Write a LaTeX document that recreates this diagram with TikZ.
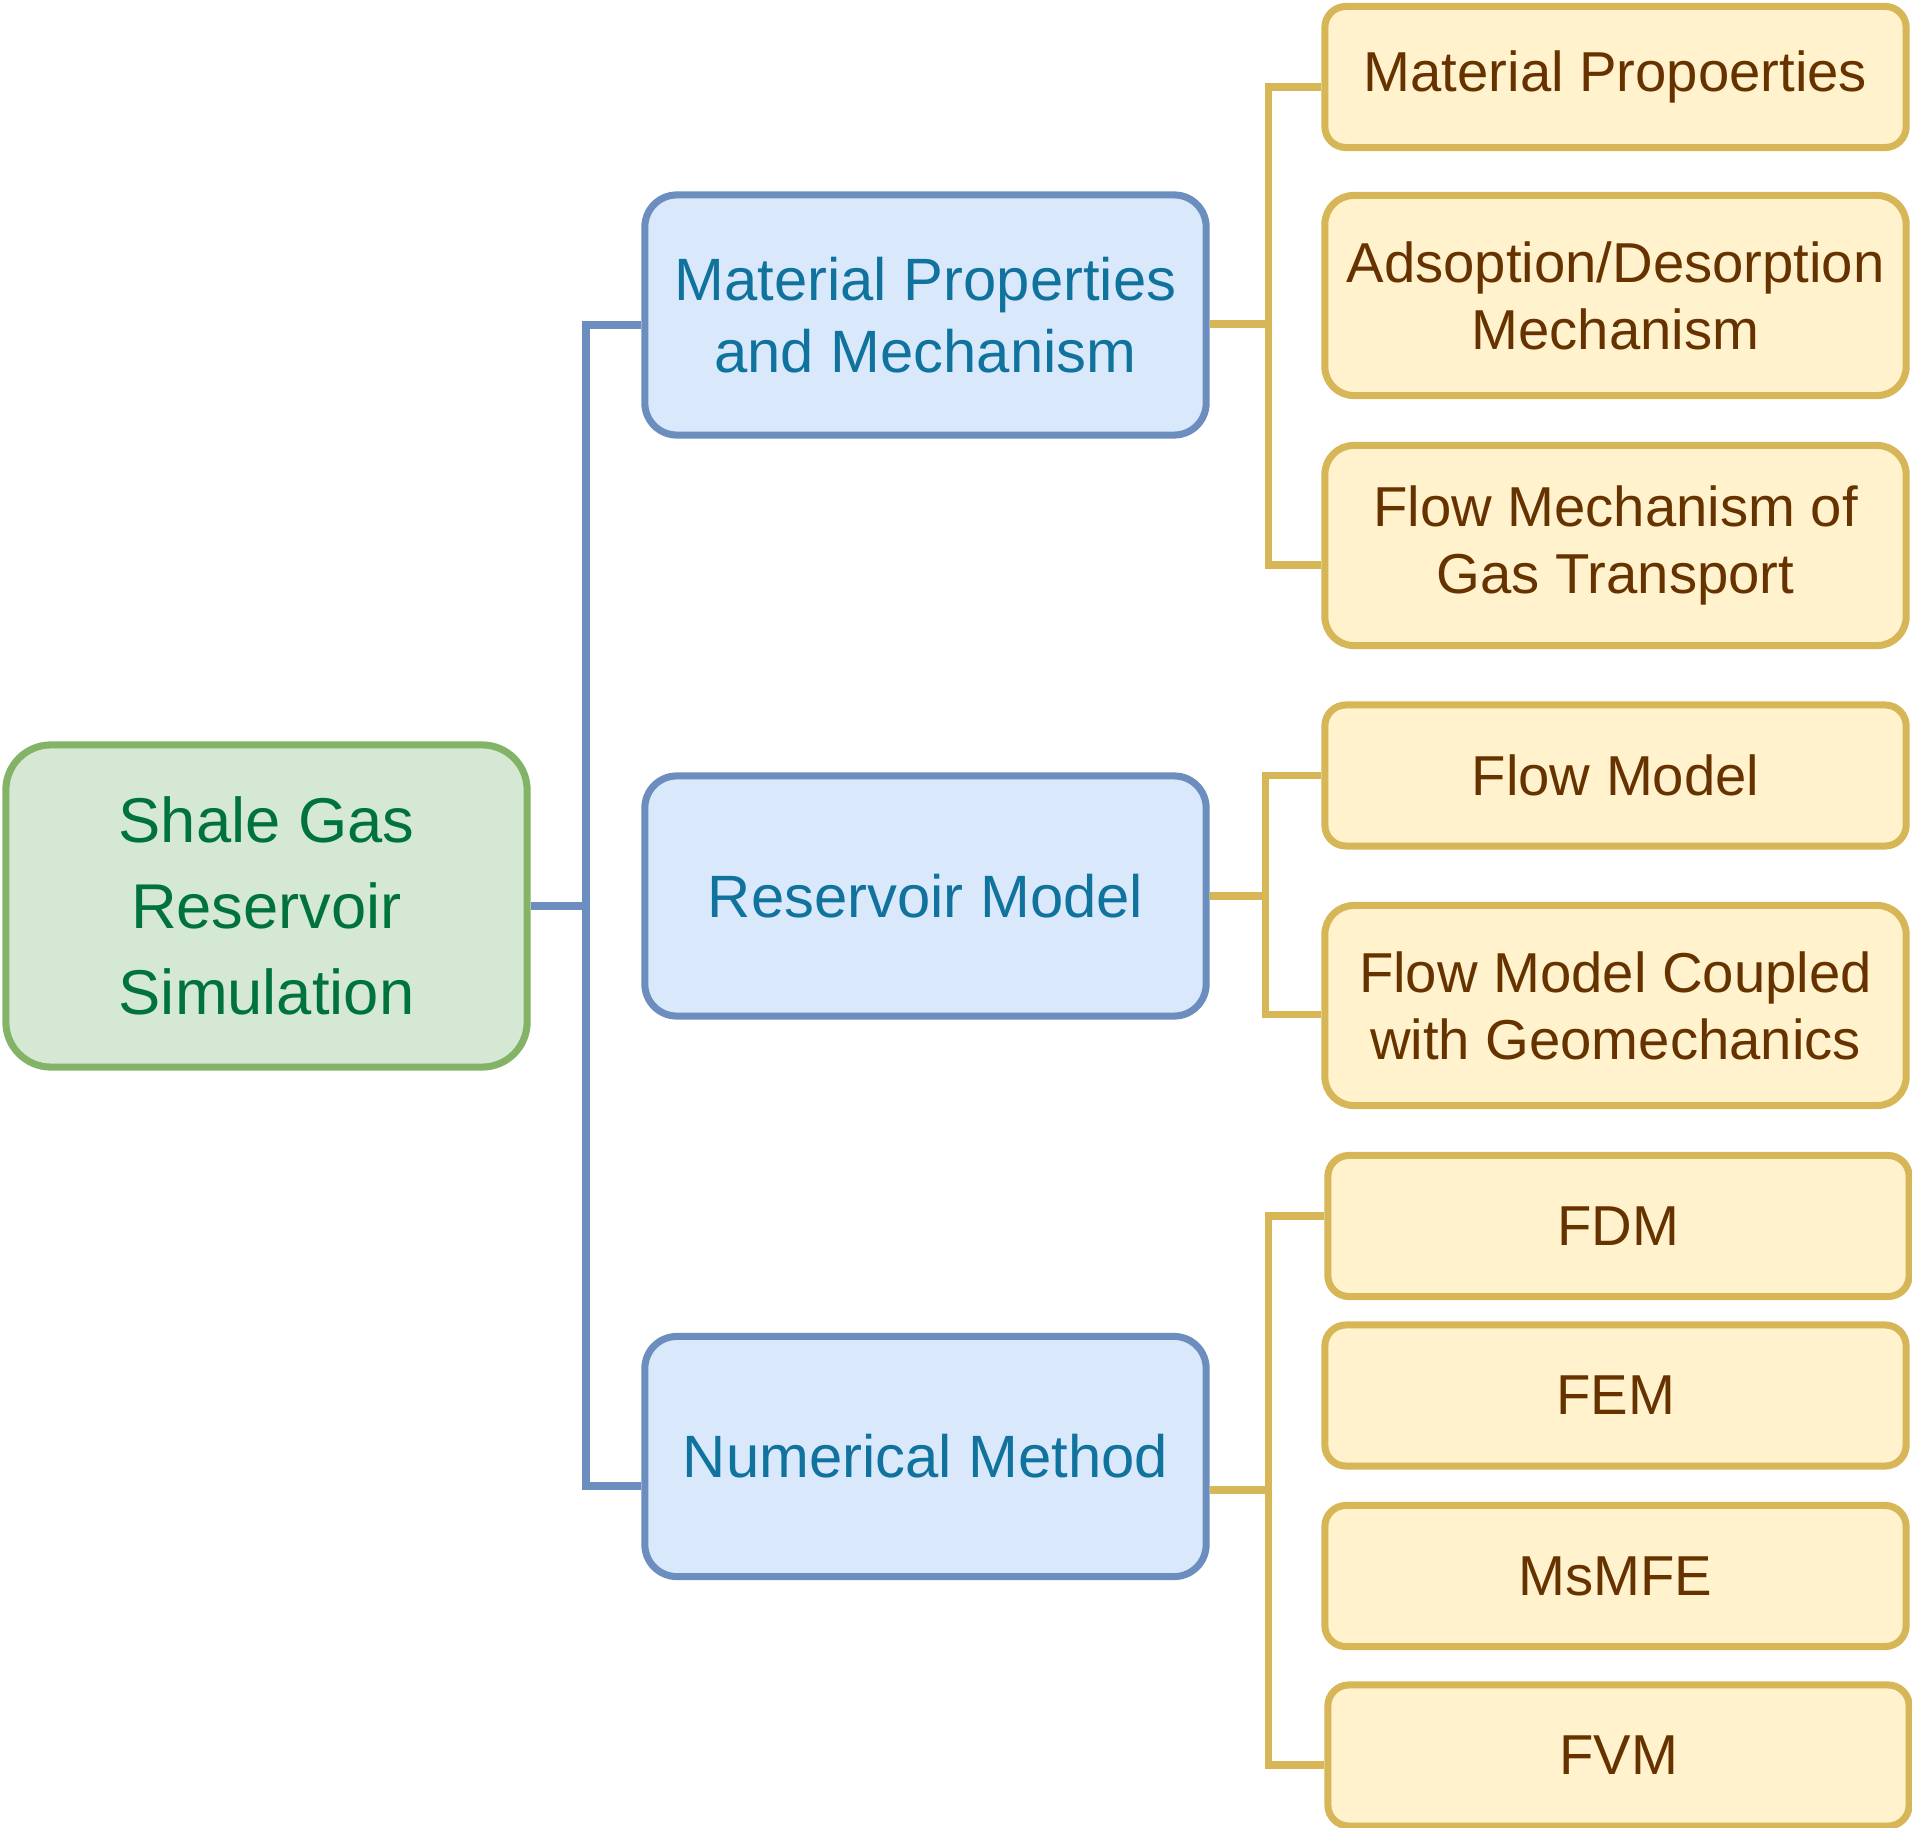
\documentclass[tikz,border=0pt]{standalone}
\usepackage{fontspec}
\setmainfont{Liberation Sans}
\usepackage{xcolor}
\definecolor{rootfill}{HTML}{D5E8D4}
\definecolor{rootline}{HTML}{82B366}
\definecolor{roottext}{HTML}{00733B}
\definecolor{topicfill}{HTML}{DAE8FC}
\definecolor{topicline}{HTML}{6C8EBF}
\definecolor{topictext}{HTML}{10739E}
\definecolor{leaffill}{HTML}{FFF2CC}
\definecolor{leafline}{HTML}{D6B656}
\definecolor{leaftext}{HTML}{663300}
\usetikzlibrary{positioning,calc,shapes}

\begin{document}
\begin{tikzpicture}[x=0.01cm,y=-0.01cm,
 rootbox/.style={rectangle,rounded corners=0.45cm,draw=rootline,fill=rootfill,
   line width=2pt,text=roottext,align=center,inner sep=0pt,
   minimum width=5.21cm,minimum height=3.22cm,font=\fontsize{18}{24.5}\selectfont},
 topicbox/.style={rectangle,rounded corners=0.32cm,draw=topicline,fill=topicfill,
   line width=2pt,text=topictext,align=center,inner sep=0pt,
   minimum width=5.61cm,minimum height=2.40cm,font=\fontsize{17}{20.5}\selectfont},
 leafbox/.style={rectangle,rounded corners=0.21cm,draw=leafline,fill=leaffill,
   line width=2pt,text=leaftext,align=center,inner sep=0pt,
   minimum width=5.81cm,minimum height=1.41cm,font=\fontsize{16}{19}\selectfont},
 tallleaf/.style={leafbox,rounded corners=0.29cm,minimum height=2.00cm},
 bluelink/.style={draw=topicline,line width=2pt},
 yellowlink/.style={draw=leafline,line width=2pt}]

  \useasboundingbox (0,0) rectangle (1912,1828);

  \node[rootbox] (shale) at (266.5,906) {Shale Gas\\Reservoir\\Simulation};

  \node[topicbox] (matmech) at (925.5,315) {Material Properties\\and Mechanism};
  \node[topicbox] (resmodel) at (925.5,896) {Reservoir Model};
  \node[topicbox] (nummethod) at (925.5,1456.5) {Numerical Method};

  \node[leafbox] (matprop) at (1615.5,77) {Material Propoerties};
  \node[tallleaf] (adsorp) at (1615.5,295.5) {Adsoption/Desorption\\Mechanism};
  \node[tallleaf] (gasflow) at (1615.5,545.5) {Flow Mechanism of\\Gas Transport};

  \node[leafbox] (flowmodel) at (1615.5,775.5) {Flow Model};
  \node[tallleaf] (geomech) at (1615.5,1005.5) {Flow Model Coupled\\with Geomechanics};

  \node[leafbox] (fdm) at (1618.5,1226) {FDM};
  \node[leafbox] (fem) at (1615.5,1395.5) {FEM};
  \node[leafbox] (msmfe) at (1615.5,1576) {MsMFE};
  \node[leafbox] (fvm) at (1618.5,1755.5) {FVM};

  \coordinate (bluebus) at (586,0);
  \coordinate (busa) at (1268,0);
  \coordinate (busb) at (1265,0);
  \coordinate (busc) at (1268,0);

  \draw[bluelink] ($(matmech.west)+(0,10)$) -| ($(bluebus |- nummethod.west)+(0,29.5)$)
    -- ($(nummethod.west)+(0,29.5)$);
  \draw[bluelink] (shale.east) -- (bluebus |- shale.east);

  \draw[yellowlink] ($(matprop.west)+(0,10)$) -| ($(busa |- gasflow.west)+(0,19.5)$)
    -- ($(gasflow.west)+(0,19.5)$);
  \draw[yellowlink] ($(matmech.east)+(0,9)$) -- ($(busa |- matmech.east)+(0,9)$);

  \draw[yellowlink] (flowmodel.west) -| ($(busb |- geomech.west)+(0,9)$)
    -- ($(geomech.west)+(0,9)$);
  \draw[yellowlink] (resmodel.east) -- (busb |- resmodel.east);

  \draw[yellowlink] ($(fdm.west)+(0,-10)$) -| ($(busc |- fvm.west)+(0,9.5)$)
    -- ($(fvm.west)+(0,9.5)$);
  \draw[yellowlink] ($(nummethod.east)+(0,33.5)$) -- ($(busc |- nummethod.east)+(0,33.5)$);

\end{tikzpicture}
\end{document}
